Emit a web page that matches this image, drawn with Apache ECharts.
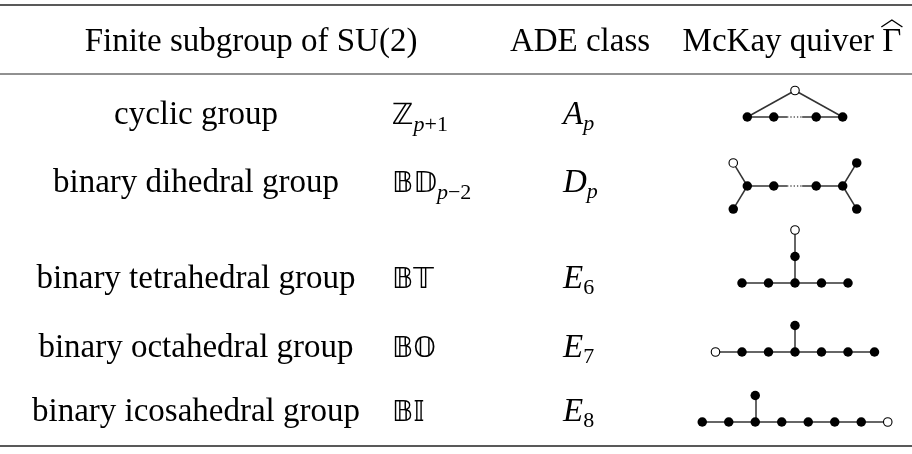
<!DOCTYPE html>
<html>
<head>
<meta charset="utf-8">
<script src="https://cdn.jsdelivr.net/npm/echarts@6/dist/echarts.min.js"></script>
<style>
html,body{margin:0;padding:0;background:#fff;}
#chart{width:912px;height:454px;}
</style>
</head>
<body>
<div id="chart"></div>
<script>
// ---------- data ----------
const headers = ['Finite subgroup of SU(2)', 'ADE class', 'McKay quiver \u0393'];
const groupNames = ['cyclic group', 'binary dihedral group', 'binary tetrahedral group', 'binary octahedral group', 'binary icosahedral group'];
const groupSymbols = ['\u2124', '\uD835\uDD39\uD835\uDD3B', '\uD835\uDD39\uD835\uDD4B', '\uD835\uDD39\uD835\uDD46', '\uD835\uDD39\uD835\uDD40'];
const groupSubItalic = ['p', 'p', '', '', ''];
const groupSubUpright = ['+1', '\u22122', '', '', ''];
const adeLetters = ['A', 'D', 'E', 'E', 'E'];
const adeSubItalic = ['p', 'p', '', '', ''];
const adeSubUpright = ['', '', '6', '7', '8'];

// quiver nodes: [x, y, kind]  kind: f = filled, o = open (extended node), g = hidden break point
const quiverNodes = [
  [[-1.8,0,'f'],[-0.8,0,'f'],[0.8,0,'f'],[1.8,0,'f'],[0,1,'o'],[-0.3,0,'g'],[0.27,0,'g']],
  [[-1.8,0,'f'],[-0.8,0,'f'],[0.8,0,'f'],[1.8,0,'f'],[-2.33,0.87,'o'],[-2.33,-0.87,'f'],[2.33,0.87,'f'],[2.33,-0.87,'f'],[-0.3,0,'g'],[0.27,0,'g']],
  [[-2,0,'f'],[-1,0,'f'],[0,0,'f'],[1,0,'f'],[2,0,'f'],[0,1,'f'],[0,2,'o']],
  [[-3,0,'o'],[-2,0,'f'],[-1,0,'f'],[0,0,'f'],[1,0,'f'],[2,0,'f'],[3,0,'f'],[0,1,'f']],
  [[-3.5,0,'f'],[-2.5,0,'f'],[-1.5,0,'f'],[-0.5,0,'f'],[0.5,0,'f'],[1.5,0,'f'],[2.5,0,'f'],[3.5,0,'o'],[-1.5,1,'f']]
];
// quiver edges: [source, target, style]
const quiverEdges = [
  [[0,1,'s'],[1,5,'s'],[5,6,'d'],[6,2,'s'],[2,3,'s'],[0,4,'s'],[3,4,'s']],
  [[0,1,'s'],[1,8,'s'],[8,9,'d'],[9,2,'s'],[2,3,'s'],[0,4,'s'],[0,5,'s'],[3,6,'s'],[3,7,'s']],
  [[0,1,'s'],[1,2,'s'],[2,3,'s'],[3,4,'s'],[2,5,'s'],[5,6,'s']],
  [[0,1,'s'],[1,2,'s'],[2,3,'s'],[3,4,'s'],[4,5,'s'],[5,6,'s'],[3,7,'s']],
  [[0,1,'s'],[1,2,'s'],[2,3,'s'],[3,4,'s'],[4,5,'s'],[5,6,'s'],[6,7,'s'],[2,8,'s']]
];

// ---------- layout / style ----------
const W = 912, H = 454;
const SERIF = '"Liberation Serif", "DejaVu Serif", serif';
const BBFONT = '"DejaVu Sans", "DejaVu Serif", sans-serif';
const FS = 33, SFS = 22, BBFS = 29;
const headerY = 42;
const rowTextY = [115, 183, 279, 348, 412];
const col2Shift = 1.5;
const quiverBaseY = [117, 186, 283, 352, 422];
const col1Center = 196, col2Left = 392, col3Left = 563;
const headerCenters = [251, 580, 792];
const quiverCenterX = 795, U = 26.5;
const rules = [{y: 5, w: 1.6}, {y: 74, w: 1}, {y: 446, w: 1.6}];

const rich = {
  m: {fontSize: FS, fontFamily: SERIF, lineHeight: 40, verticalAlign: 'middle', fill: '#000'},
  bb: {fontSize: BBFS, fontFamily: BBFONT, lineHeight: 40, verticalAlign: 'middle', fill: '#000'},
  mi: {fontSize: FS, fontFamily: SERIF, fontStyle: 'italic', lineHeight: 40, verticalAlign: 'middle', fill: '#000'},
  si: {fontSize: SFS, fontFamily: SERIF, fontStyle: 'italic', lineHeight: 26, verticalAlign: 'bottom', fill: '#000'},
  su: {fontSize: SFS, fontFamily: SERIF, lineHeight: 26, verticalAlign: 'bottom', fill: '#000'}
};

function richStr(mainKey, main, subI, subU) {
  let s = '{' + mainKey + '|' + main + '}';
  if (subI) s += '{si|' + subI + '}';
  if (subU) s += '{su|' + subU + '}';
  return s;
}

const measureCtx = document.createElement('canvas').getContext('2d');
function textWidth(t, size, fam) {
  measureCtx.font = size + 'px ' + fam;
  return measureCtx.measureText(t).width;
}

const graphic = [];
rules.forEach(r => graphic.push({
  type: 'line', silent: true,
  shape: {x1: 0, y1: r.y, x2: W, y2: r.y},
  style: {stroke: '#222', lineWidth: r.w}
}));
headers.forEach((h, i) => graphic.push({
  type: 'text', x: headerCenters[i], y: headerY, silent: true,
  style: {text: h, fontSize: FS, fontFamily: SERIF, fill: '#000', align: 'center', verticalAlign: 'middle'}
}));
// wide hat over the Gamma of the last header
(function () {
  const full = textWidth(headers[2], FS, SERIF);
  const g = textWidth('\u0393', FS, SERIF);
  const right = headerCenters[2] + full / 2;
  const cx = right - g / 2;
  const half = g / 2 + 1;
  graphic.push({
    type: 'polyline', silent: true,
    shape: {points: [[cx - half, 27], [cx, 20], [cx + half, 27]]},
    style: {stroke: '#000', lineWidth: 1.4, fill: null}
  });
})();
groupNames.forEach((g, i) => {
  graphic.push({
    type: 'text', x: col1Center, y: rowTextY[i], silent: true,
    style: {text: g, fontSize: FS, fontFamily: SERIF, fill: '#000', align: 'center', verticalAlign: 'middle'}
  });
  graphic.push({
    type: 'text', x: col2Left, y: rowTextY[i] + col2Shift, silent: true,
    style: {text: richStr('bb', groupSymbols[i], groupSubItalic[i], groupSubUpright[i]), rich: rich,
      fontSize: FS, fontFamily: SERIF, align: 'left', verticalAlign: 'middle'}
  });
  graphic.push({
    type: 'text', x: col3Left, y: rowTextY[i], silent: true,
    style: {text: richStr('mi', adeLetters[i], adeSubItalic[i], adeSubUpright[i]), rich: rich,
      fontSize: FS, fontFamily: SERIF, align: 'left', verticalAlign: 'middle'}
  });
});

// one small grid per quiver, units = node spacing
const yMin = -1.1, yMax = 2.1;
const grids = [], xAxes = [], yAxes = [], series = [];
quiverNodes.forEach((nodes, r) => {
  grids.push({left: quiverCenterX - 4 * U, width: 8 * U, top: quiverBaseY[r] - yMax * U, height: (yMax - yMin) * U, show: false});
  xAxes.push({type: 'value', gridIndex: r, min: -4, max: 4, show: false});
  yAxes.push({type: 'value', gridIndex: r, min: yMin, max: yMax, show: false});
  series.push({
    type: 'graph', coordinateSystem: 'cartesian2d', xAxisIndex: r, yAxisIndex: r,
    silent: true, animation: false, label: {show: false},
    emphasis: {disabled: true},
    data: nodes.map(n => ({
      value: [n[0], n[1]],
      symbol: 'circle',
      symbolSize: n[2] === 'g' ? 0 : (n[2] === 'o' ? 8.5 : 9.5),
      itemStyle: n[2] === 'o'
        ? {color: '#fff', borderColor: '#000', borderWidth: 1.1}
        : {color: '#000', borderWidth: 0}
    })),
    links: quiverEdges[r].map(e => ({
      source: e[0], target: e[1],
      lineStyle: e[2] === 'd'
        ? {color: '#555', width: 1.5, type: [1.3, 2], opacity: 1, curveness: 0}
        : {color: '#333', width: 1.5, type: 'solid', opacity: 1, curveness: 0}
    })),
    lineStyle: {opacity: 1}
  });
});

const chart = echarts.init(document.getElementById('chart'), null, {renderer: 'canvas'});
chart.setOption({
  animation: false,
  backgroundColor: '#fff',
  grid: grids, xAxis: xAxes, yAxis: yAxes,
  series: series,
  graphic: graphic
});
</script>
</body>
</html>
